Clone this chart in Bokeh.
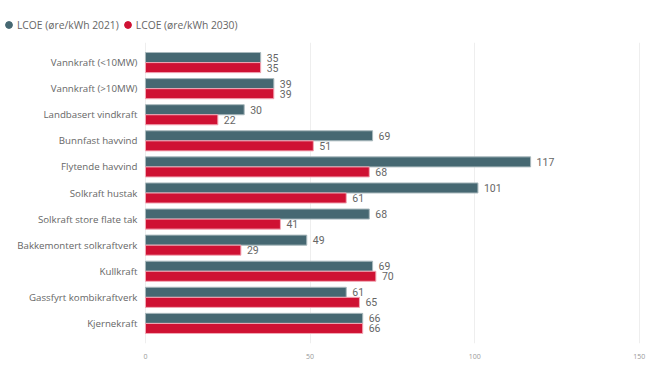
from bokeh.plotting import figure
from bokeh.layouts import column
from bokeh.models import ColumnDataSource, Range1d, FixedTicker, Legend, LegendItem
from bokeh.core.properties import value
from bokeh.embed import file_html
from bokeh.resources import INLINE

categories = ["Vannkraft (<10MW)", "Vannkraft (>10MW)", "Landbasert vindkraft",
              "Bunnfast havvind", "Flytende havvind", "Solkraft hustak",
              "Solkraft store flate tak", "Bakkemontert solkraftverk", "Kullkraft",
              "Gassfyrt kombikraftverk", "Kjernekraft"]
lcoe_2021 = [35, 39, 30, 69, 117, 101, 68, 49, 69, 61, 66]
lcoe_2030 = [35, 39, 22, 51, 68, 61, 41, 29, 70, 65, 66]
series_names = ["LCOE (øre/kWh 2021)", "LCOE (øre/kWh 2030)"]
x_ticks = [0, 50, 100, 150]

C1 = "#466872"
C2 = "#cf1133"
TXT = "#666666"

idx = list(range(len(categories)))
off = 0.193
h = 0.385

# ---- legend strip ----
leg = figure(width=663, height=42, output_backend="svg", toolbar_location=None,
             x_axis_location=None, y_axis_location=None,
             x_range=Range1d(0, 1), y_range=Range1d(0, 1),
             min_border_left=0, min_border_right=18, min_border_top=0, min_border_bottom=0)
leg.outline_line_color = None
leg.xgrid.grid_line_color = None
leg.ygrid.grid_line_color = None
nan = float("nan")
r1 = leg.scatter(x=[nan], y=[nan], marker="circle", fill_color=C1, line_color=C1)
r2 = leg.scatter(x=[nan], y=[nan], marker="circle", fill_color=C2, line_color=C2)
legend = Legend(items=[LegendItem(label=series_names[0], renderers=[r1]),
                       LegendItem(label=series_names[1], renderers=[r2])],
                orientation="horizontal", location=(0, 9),
                glyph_width=17, glyph_height=17, label_height=17,
                label_standoff=0, spacing=0,
                padding=0, margin=0, border_line_color=None,
                background_fill_alpha=0,
                label_text_font="Open Sans", label_text_font_size="10.3px",
                label_text_color=TXT)
leg.add_layout(legend, "center")

# ---- main chart ----
p = figure(width=663, height=327, output_backend="svg", toolbar_location=None,
           x_range=Range1d(-44.03, 151.9), y_range=Range1d(10.77, -0.77),
           y_axis_location=None,
           min_border_left=0, min_border_right=18, min_border_top=0,
           min_border_bottom=26)
p.outline_line_color = None
p.background_fill_color = "white"

s1 = ColumnDataSource(dict(y=[i - off for i in idx], v=lcoe_2021, t=[str(v) for v in lcoe_2021]))
s2 = ColumnDataSource(dict(y=[i + off for i in idx], v=lcoe_2030, t=[str(v) for v in lcoe_2030]))
sc = ColumnDataSource(dict(y=idx, x=[0] * len(idx), c=categories))

p.hbar(y="y", right="v", left=0, height=h, source=s1, fill_color=C1,
       line_color="#a9b9bd", line_width=1)
p.hbar(y="y", right="v", left=0, height=h, source=s2, fill_color=C2,
       line_color="#f2a9b6", line_width=1)

for s in (s1, s2):
    p.text(x="v", y="y", text="t", source=s, x_offset=6, text_baseline="middle",
           text_align="left", text_font=value("Roboto"), text_font_size="10.5px",
           text_color=TXT)

# category labels
p.text(x="x", y="y", text="c", source=sc, x_offset=-8, text_baseline="middle",
       text_align="right", text_font=value("Open Sans"), text_font_size="9.7px",
       text_color=TXT)

p.xaxis.ticker = FixedTicker(ticks=x_ticks)
p.xaxis.axis_line_color = None
p.xaxis.major_tick_line_color = None
p.xaxis.minor_tick_line_color = None
p.xaxis.major_label_text_font = "Open Sans"
p.xaxis.major_label_text_font_size = "7px"
p.xaxis.major_label_text_color = "#999999"
p.xaxis.major_label_standoff = 4

p.xgrid.grid_line_color = "#eeeeee"
p.ygrid.grid_line_color = None

open("out.html", "w").write(file_html(column(leg, p), INLINE))
